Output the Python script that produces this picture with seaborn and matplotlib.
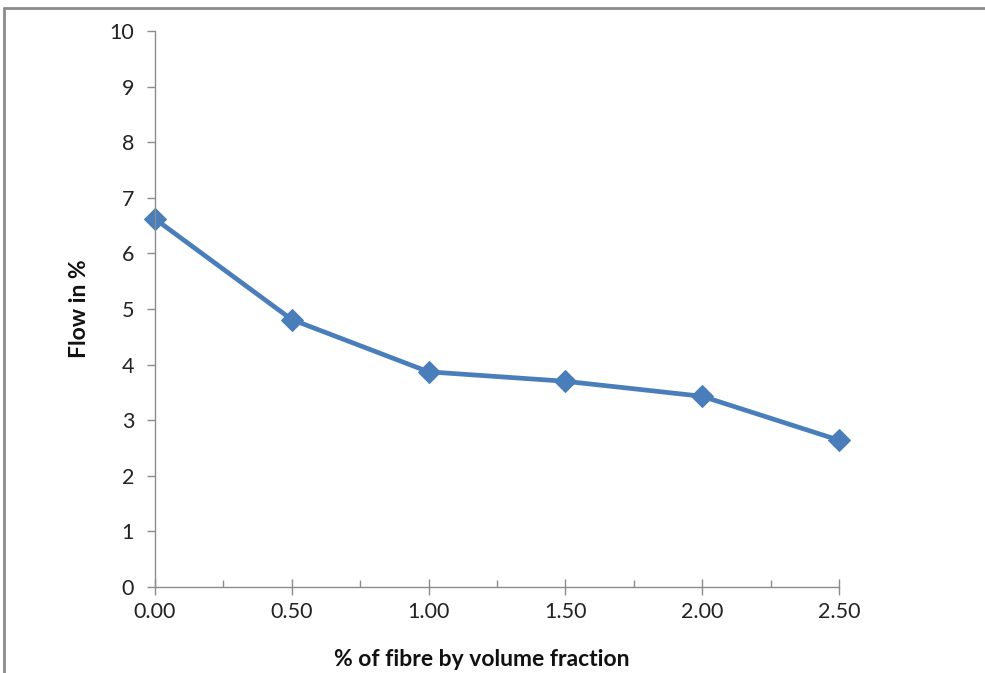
import matplotlib
matplotlib.use("Agg")
import matplotlib.pyplot as plt
import seaborn as sns
import pandas as pd
from matplotlib.ticker import MultipleLocator, FormatStrFormatter
from matplotlib.lines import Line2D

fibre = [0.0, 0.5, 1.0, 1.5, 2.0, 2.5]
flow = [6.62, 4.81, 3.87, 3.70, 3.43, 2.64]
x_label = "% of fibre by volume fraction"
y_label = "Flow in %"

df = pd.DataFrame({"fibre": fibre, "flow": flow})

sns.set_theme(style="white")
plt.rcParams['font.family'] = ['Lato', 'DejaVu Sans']

fig = plt.figure(figsize=(9.85, 6.73), dpi=100)
ax = fig.add_axes([155/985, 1-587/673, (839-155)/985, (587-31)/673])

sns.lineplot(data=df, x="fibre", y="flow", ax=ax, color="#4A7EBB", linewidth=3.4,
             marker="D", markersize=11, markeredgecolor="#4A7EBB", clip_on=False)

ax.set_xlim(0, 2.5)
ax.set_ylim(0, 10)
ax.xaxis.set_major_locator(MultipleLocator(0.5))
ax.xaxis.set_minor_locator(MultipleLocator(0.25))
ax.xaxis.set_major_formatter(FormatStrFormatter("%.2f"))
ax.yaxis.set_major_locator(MultipleLocator(1))

for s in ["top", "right"]:
    ax.spines[s].set_visible(False)
for s in ["left", "bottom"]:
    ax.spines[s].set_color("#8C8C8C")
    ax.spines[s].set_linewidth(1.0)

ax.tick_params(axis="x", which="major", direction="inout", length=12, width=1, color="#8C8C8C",
               labelsize=15.5, pad=5, labelcolor="#222222", bottom=True)
ax.tick_params(axis="x", which="minor", direction="in", length=5, width=1, color="#8C8C8C", bottom=True)
ax.tick_params(axis="y", which="major", direction="out", length=6, width=1, color="#8C8C8C",
               labelsize=15.5, pad=9, labelcolor="#222222", left=True)

ax.set_xlabel(x_label, fontsize=16.5, fontweight="bold", labelpad=19, color="#111111")
ax.xaxis.label.set_x(0.478)
ax.set_ylabel(y_label, fontsize=16.5, fontweight="bold", labelpad=14, color="#111111")
ax.grid(False)

# outer chart frame (top and left edges visible)
fig.add_artist(Line2D([4/985, 1], [1-8/673, 1-8/673], transform=fig.transFigure, color="#8C8C8C", lw=2))
fig.add_artist(Line2D([4/985, 4/985], [0, 1-8/673], transform=fig.transFigure, color="#8C8C8C", lw=2))

fig.savefig("out.png", dpi=100)
